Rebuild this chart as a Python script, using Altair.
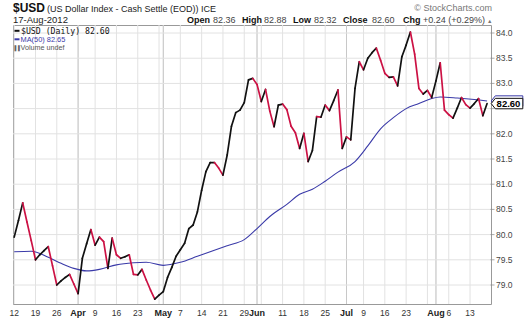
import altair as alt
import pandas as pd

# ---------------- data ----------------
close = [79.95, 80.28, 80.63, 80.25, 79.88, 79.50, 79.60, 79.68, 79.76, 79.38,
         79.00, 79.08, 79.15, 79.21, 79.02, 78.83, 79.53, 79.82, 80.10, 79.79,
         79.95, 79.86, 79.33, 79.93, 79.60, 79.53, 79.56, 79.60, 79.21, 79.20,
         79.31, 79.10, 78.90, 78.72, 78.80, 78.87, 79.15, 79.35, 79.57, 79.70,
         79.83, 80.12, 80.19, 80.45, 80.88, 81.25, 81.43, 81.43, 81.32, 81.18,
         81.58, 82.15, 82.42, 82.47, 82.62, 83.07, 83.10, 82.98, 82.64, 82.88,
         82.45, 82.14, 82.57, 82.59, 82.48, 82.15, 82.02, 81.71, 82.01, 81.45,
         81.67, 82.34, 82.33, 82.57, 82.46, 82.66, 82.87, 81.71, 81.94, 81.88,
         82.90, 83.43, 83.27, 83.50, 83.61, 83.70, 83.46, 83.20, 83.12, 83.13,
         82.95, 83.53, 83.76, 84.02, 83.58, 82.90, 82.79, 82.86, 82.72, 83.05,
         83.41, 82.47, 82.38, 82.31, 82.51, 82.72, 82.58, 82.51, 82.60, 82.70,
         82.36, 82.60]

ma_idx = [0, 4, 8, 11, 14, 17, 20, 24, 28, 31, 35, 39, 43, 46, 50, 54, 57, 60,
          64, 67, 70, 73, 76, 80, 83, 86, 89, 92, 95, 98, 100, 104, 108, 111]
ma_val = [79.66, 79.67, 79.55, 79.43, 79.33, 79.28, 79.31, 79.40, 79.44, 79.45,
          79.39, 79.45, 79.57, 79.66, 79.78, 79.90, 80.12, 80.36, 80.60, 80.80,
          80.90, 81.06, 81.24, 81.45, 81.76, 82.10, 82.32, 82.50, 82.60, 82.70,
          82.73, 82.71, 82.68, 82.65]

week_idx = [0, 5, 10, 15, 19, 24, 29, 34, 35, 39, 44, 49, 54, 57, 58, 63, 68,
            73, 78, 82, 87, 92, 97, 99, 102, 107]
month_idx = [15, 35, 57, 78, 99]
day_tick_idx = [0, 5, 10, 19, 24, 29, 39, 44, 49, 54, 63, 68, 73, 82, 87, 92, 102, 107]
day_tick_lbl = ["12", "19", "26", "9", "16", "23", "7", "14", "21", "29",
                "11", "18", "25", "9", "16", "23", "6", "13"]
month_tick_lbl = ["Apr", "May", "Jun", "Jul", "Aug"]
y_ticks = [79.0, 79.5, 80.0, 80.5, 81.0, 81.5, 82.0, 82.5, 83.0, 83.5, 84.0]
# 82.5 is hidden behind the last-value tag in the reference
y_lbl_vals = [79.0, 79.5, 80.0, 80.5, 81.0, 81.5, 82.0, 83.0, 83.5, 84.0]
y_lbl_text = ["79.0", "79.5", "80.0", "80.5", "81.0", "81.5", "82.0",
              "83.0", "83.5", "84.0"]

last_close = 82.60
last_ma = 82.65

# ---------------- layout ----------------
W, H = 478, 279
FONT = "Liberation Sans"
RED = "#cc1144"
BLUE = "#3a3aa8"

xscale = alt.Scale(domain=[-0.28, 111.92], nice=False, zero=False)
yscale = alt.Scale(domain=[78.623, 84.159], nice=False, zero=False)

one = pd.DataFrame({"a": [0]})
ytick_df = pd.DataFrame({"gy": y_ticks})
ylbl_df = pd.DataFrame({"gy": y_lbl_vals, "t": y_lbl_text})

# grid
grid_v = alt.Chart(pd.DataFrame({"i": week_idx})).mark_rule(
    color="#e2e2e2", strokeWidth=1).encode(x=alt.X("i:Q", scale=xscale, axis=None))
grid_m = alt.Chart(pd.DataFrame({"i": month_idx})).mark_rule(
    color="#c8c8c8", strokeWidth=1).encode(x=alt.X("i:Q", scale=xscale, axis=None))
grid_h = alt.Chart(ytick_df).mark_rule(color="#e2e2e2", strokeWidth=1).encode(
    y=alt.Y("gy:Q", scale=yscale, axis=None))
ytick_marks = alt.Chart(ytick_df).mark_tick(
    color="#888", thickness=1, size=4, orient="horizontal").encode(
    x=alt.value(W + 1.5), y=alt.Y("gy:Q", scale=yscale, axis=None))
ytick_lbls = alt.Chart(ylbl_df).mark_text(
    font=FONT, fontSize=8.5, color="#444", align="left", baseline="middle").encode(
    x=alt.value(W + 5), y=alt.Y("gy:Q", scale=yscale, axis=None), text="t:N")

# moving average
ma_df = pd.DataFrame({"i": ma_idx, "v": ma_val})
ma_line = alt.Chart(ma_df).mark_line(color=BLUE, strokeWidth=1.1, interpolate="monotone").encode(
    x=alt.X("i:Q", scale=xscale, axis=None),
    y=alt.Y("v:Q", scale=yscale, axis=None))

# price segments coloured by direction
seg = pd.DataFrame({
    "i": list(range(len(close) - 1)),
    "i2": list(range(1, len(close))),
    "v": close[:-1],
    "v2": close[1:],
})
seg["d"] = ["up" if b >= a else "down" for a, b in zip(seg["v"], seg["v2"])]
price = alt.Chart(seg).mark_rule(strokeWidth=1.7, strokeCap="round").encode(
    x=alt.X("i:Q", scale=xscale, axis=None), x2="i2:Q",
    y=alt.Y("v:Q", scale=yscale, axis=None), y2="v2:Q",
    color=alt.Color("d:N", scale=alt.Scale(domain=["up", "down"], range=["#111111", RED]),
                    legend=None))

# x tick labels
days = alt.Chart(pd.DataFrame({"i": day_tick_idx, "t": day_tick_lbl})).mark_text(
    font=FONT, fontSize=8.5, color="#333", baseline="alphabetic").encode(
    x=alt.X("i:Q", scale=xscale, axis=None), y=alt.value(H + 12), text="t:N")
months = alt.Chart(pd.DataFrame({"i": month_idx, "t": month_tick_lbl})).mark_text(
    font=FONT, fontSize=9, fontWeight="bold", color="#222", baseline="alphabetic").encode(
    x=alt.X("i:Q", scale=xscale, axis=None), y=alt.value(H + 12), text="t:N")

# value tags on right axis
TAG = "M -1 0 L -0.74 -0.33 L 1 -0.33 L 1 0.33 L -0.74 0.33 Z"
tag_ma = alt.Chart(pd.DataFrame({"v": [last_ma]})).mark_point(
    shape=TAG, size=1000, filled=False, fill="white", fillOpacity=1,
    stroke=BLUE, strokeWidth=1, opacity=1).encode(
    x=alt.value(W + 16), y=alt.Y("v:Q", scale=yscale, axis=None))
tag_px = alt.Chart(pd.DataFrame({"v": [last_close]})).mark_point(
    shape=TAG, size=1000, filled=False, fill="white", fillOpacity=1,
    stroke="#111", strokeWidth=1, opacity=1).encode(
    x=alt.value(W + 16), y=alt.Y("v:Q", scale=yscale, axis=None))
tag_txt = alt.Chart(pd.DataFrame({"v": [last_close]})).mark_text(
    font=FONT, fontSize=9.5, fontWeight="bold", color="#000", text="82.60").encode(
    x=alt.value(W + 17.5), y=alt.Y("v:Q", scale=yscale, axis=None))


def txt(s, x, y, size=9, weight="normal", color="#222", align="left", font=FONT):
    return alt.Chart(one).mark_text(
        text=s, font=font, fontSize=size, fontWeight=weight, color=color,
        align=align, baseline="alphabetic").encode(x=alt.value(x), y=alt.value(y))


header = [
    txt("$USD", 0, -13.5, size=12, weight="bold", color="#111"),
    txt("(US Dollar Index - Cash Settle (EOD)) ICE", 34, -13.5, size=9, color="#222"),
    txt("\u00a9 StockCharts.com", 479, -14, size=9, color="#777", align="right"),
    txt("17-Aug-2012", 0, -2, size=9.5, color="#222"),
    txt("Open", 174, -2, size=9, weight="bold", color="#111"),
    txt("82.36", 200, -2, size=9, color="#444"),
    txt("High", 229, -2, size=9, weight="bold", color="#111"),
    txt("82.88", 251, -2, size=9, color="#444"),
    txt("Low", 280, -2, size=9, weight="bold", color="#111"),
    txt("82.32", 301, -2, size=9, color="#444"),
    txt("Close", 330, -2, size=9, weight="bold", color="#111"),
    txt("82.60", 359, -2, size=9, color="#444"),
    txt("Chg", 390, -2, size=9, weight="bold", color="#111"),
    txt("+0.24 (+0.29%)", 410, -2, size=9, color="#444"),
    txt("\u25b2", 474, -2.5, size=5.5, color="#777"),
    # legend
    txt("$USD (Daily) 82.60", 8, 8.6, size=8.2, color="#111", font="DejaVu Sans Mono"),
    txt("MA(50) 82.65", 7.5, 17.0, size=7.4, color=BLUE),
    txt("\u258c\u258c", 1.5, 25.2, size=5, color="#666"),
    txt("Volume undef", 7.5, 25.2, size=7.2, color="#555"),
]

swatch_px = alt.Chart(one).mark_rule(color="#111", strokeWidth=2).encode(
    x=alt.value(1.5), x2=alt.value(6.5), y=alt.value(5.8))
swatch_ma = alt.Chart(one).mark_rule(color=BLUE, strokeWidth=2).encode(
    x=alt.value(1.5), x2=alt.value(6.5), y=alt.value(14.3))

chart = alt.layer(
    grid_v, grid_m, grid_h, ytick_marks, ytick_lbls, ma_line, price, days, months,
    swatch_px, swatch_ma, *header, tag_ma, tag_px, tag_txt,
).properties(
    width=W, height=H,
    padding={"left": 13, "top": 25, "right": 37, "bottom": 16},
    autosize=alt.AutoSizeParams(type="none"),
    background="white",
).configure_view(stroke="#999", strokeWidth=1)

chart.save("out.html", embed_options={"renderer": "svg", "actions": False})
